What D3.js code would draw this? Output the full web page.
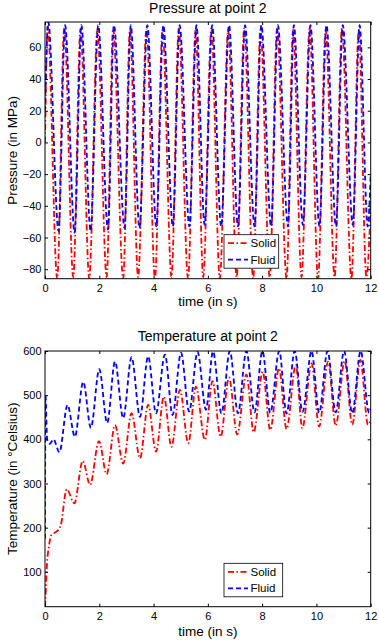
<!DOCTYPE html>
<html>
<head>
<meta charset="utf-8">
<script src="https://cdn.jsdelivr.net/npm/d3@7"></script>
<style>
  html, body { margin: 0; padding: 0; background: #fff; }
  svg { display: block; font-family: "Liberation Sans", Arial, sans-serif; }
</style>
</head>
<body>
<div id="chart"></div>
<script>
// values (time in s)
var seriesNames = ["Solid", "Fluid"];
var xTicks = [0, 2, 4, 6, 8, 10, 12];
var pressureTicks = [-80, -60, -40, -20, 0, 20, 40, 60];
var tempTicks = [100, 200, 300, 400, 500, 600];

// pressure, solid
var solidPTime = [0, 0.10, 0.45, 0.71, 1.04, 1.31, 1.63, 1.93, 2.27, 2.51, 2.88, 3.13, 3.43, 3.74, 4.05, 4.33, 4.66, 4.93, 5.27, 5.55, 5.83,
  6.13, 6.44, 6.75, 7.06, 7.34, 7.67, 7.94, 8.28, 8.55, 8.90, 9.14, 9.45, 9.75, 10.06, 10.34, 10.67, 10.94, 11.29, 11.56, 11.84, 12.0];
var solidP = [0, 73, -86, 72, -85, 72, -86, 71, -85, 72, -86, 71, -85, 72, -86, 71, -85, 72, -86, 71, -85,
  72, -86, 71, -85, 72, -86, 71, -85, 72, -86, 71, -85, 72, -86, 71, -85, 72, -86, 71, -85, -40];

// pressure, fluid
var fluidPTime = [0, 0.12, 0.50, 0.74, 1.09, 1.34, 1.68, 1.96, 2.32, 2.54, 2.93, 3.16, 3.48, 3.77, 4.10, 4.36, 4.71, 4.96, 5.32, 5.58, 5.88,
  6.16, 6.49, 6.78, 7.11, 7.37, 7.72, 7.97, 8.33, 8.58, 8.95, 9.17, 9.50, 9.78, 10.11, 10.37, 10.72, 10.97, 11.34, 11.59, 11.89, 12.0];
var fluidP = [20, 76, -56, 74, -57, 74, -56, 74, -55, 74, -54, 74, -54, 74, -53, 74, -53, 74, -53, 74, -52,
  74, -53, 74, -53, 74, -53, 74, -53, 74, -53, 74, -52, 74, -53, 74, -53, 74, -52, 74, -53, -20];

// temperature, solid
var solidTTime = [0, 0.03, 0.06, 0.15, 0.24, 0.40, 0.49, 0.58, 0.80, 1.08, 1.39, 1.66, 1.99, 2.27, 2.58, 2.88, 3.19, 3.50, 3.80, 4.09,
  4.38, 4.66, 4.97, 5.28, 5.56, 5.89, 6.17, 6.47, 6.78, 7.08, 7.42, 7.69, 8.02, 8.30, 8.62, 8.90, 9.24, 9.48, 9.82, 10.10,
  10.43, 10.71, 11.04, 11.32, 11.62, 11.90, 12.0];
var solidT = [21, 60, 104, 160, 184, 190, 195, 205, 287, 255, 351, 297, 396, 321, 432, 345, 459, 357, 478, 372,
  497, 383, 512, 391, 519, 399, 532, 406, 540, 411, 547, 416, 553, 421, 561, 423, 568, 425, 572, 429,
  576, 431, 577, 433, 580, 433, 445];

// temperature, fluid
var fluidTTime = [0, 0.015, 0.08, 0.18, 0.31, 0.53, 0.83, 1.10, 1.41, 1.69, 2.00, 2.29, 2.58, 2.88, 3.19, 3.50, 3.80, 4.09, 4.42, 4.70,
  5.01, 5.31, 5.62, 5.93, 6.19, 6.50, 6.81, 7.11, 7.42, 7.72, 8.01, 8.30, 8.63, 8.90, 9.20, 9.49, 9.82, 10.10, 10.41, 10.71,
  11.02, 11.32, 11.63, 11.94, 12.0];
var fluidT = [175, 500, 400, 390, 400, 371, 478, 406, 530, 426, 559, 437, 576, 448, 586, 451, 588, 459, 592, 455,
  596, 463, 598, 467, 599, 459, 600, 459, 600, 461, 600, 460, 600, 458, 600, 462, 600, 460, 600, 461,
  600, 459, 600, 460, 470];

var W = 379, H = 640;
var svg = d3.select("#chart").append("svg")
    .attr("width", W)
    .attr("height", H);

var styles = {
    Solid: { color: "#ff0000", dash: "6,2.5,1.5,2.5" },
    Fluid: { color: "#0000ff", dash: "5,3" }
};

function zip(ts, vs) {
    return ts.map(function (t, i) { return [t, vs[i]]; });
}

function drawPanel(opt) {
    var x = d3.scaleLinear().domain([0, 12]).range([45, 370.7]);
    var y = d3.scaleLinear().domain(opt.yDomain).range([opt.bottom, opt.top]);
    var g = svg.append("g");

    g.append("defs").append("clipPath")
        .attr("id", opt.id + "-clip")
        .append("rect")
        .attr("x", x.range()[0]).attr("y", opt.top)
        .attr("width", x.range()[1] - x.range()[0])
        .attr("height", opt.bottom - opt.top);

    var line = d3.line()
        .x(function (d) { return x(d[0]); })
        .y(function (d) { return y(d[1]); })
        .curve(d3.curveMonotoneX);

    var lines = g.append("g").attr("clip-path", "url(#" + opt.id + "-clip)");
    opt.series.forEach(function (s) {
        lines.append("path")
            .datum(s.data)
            .attr("d", line)
            .attr("fill", "none")
            .attr("stroke", styles[s.name].color)
            .attr("stroke-width", 1.8)
            .attr("stroke-dasharray", styles[s.name].dash);
    });

    // axes, ticks pointing inward on all four sides
    g.append("g")
        .attr("transform", "translate(0," + opt.bottom + ")")
        .call(d3.axisBottom(x).tickValues(xTicks).tickSizeInner(-3).tickSizeOuter(0).tickPadding(6));
    g.append("g")
        .attr("transform", "translate(0," + opt.top + ")")
        .call(d3.axisTop(x).tickValues(xTicks).tickSizeInner(-3).tickSizeOuter(0).tickFormat(""));
    g.append("g")
        .attr("transform", "translate(" + x.range()[0] + ",0)")
        .call(d3.axisLeft(y).tickValues(opt.yTicks).tickSizeInner(-3).tickSizeOuter(0).tickPadding(3.5));
    g.append("g")
        .attr("transform", "translate(" + x.range()[1] + ",0)")
        .call(d3.axisRight(y).tickValues(opt.yTicks).tickSizeInner(-3).tickSizeOuter(0).tickFormat(""));

    g.selectAll(".domain").remove();
    g.selectAll(".tick line").attr("stroke", "#000");
    g.selectAll(".tick text").attr("font-size", 11).attr("fill", "#000")
        .attr("font-family", "Liberation Sans, Arial, sans-serif");

    // box
    g.append("rect")
        .attr("x", x.range()[0]).attr("y", opt.top)
        .attr("width", x.range()[1] - x.range()[0])
        .attr("height", opt.bottom - opt.top)
        .attr("fill", "none").attr("stroke", "#000").attr("stroke-width", 1);

    g.append("text")
        .attr("x", (x.range()[0] + x.range()[1]) / 2)
        .attr("y", opt.titleY)
        .attr("text-anchor", "middle")
        .attr("font-size", 14)
        .text(opt.title);

    g.append("text")
        .attr("x", (x.range()[0] + x.range()[1]) / 2)
        .attr("y", opt.xLabelY)
        .attr("text-anchor", "middle")
        .attr("font-size", 13.5)
        .text("time (in s)");

    g.append("text")
        .attr("transform", "translate(17," + (opt.top + opt.bottom) / 2 + ") rotate(-90)")
        .attr("text-anchor", "middle")
        .attr("font-size", 13.5)
        .text(opt.yLabel);

    // legend
    var lg = g.append("g").attr("transform", "translate(" + opt.legend[0] + "," + opt.legend[1] + ")");
    lg.append("rect")
        .attr("width", opt.legend[2]).attr("height", 33.5)
        .attr("fill", "#fff").attr("stroke", "#000").attr("stroke-width", 0.8);
    seriesNames.forEach(function (name, i) {
        var cy = 8.5 + i * 16.5;
        lg.append("line")
            .attr("x1", 4).attr("x2", 24).attr("y1", cy).attr("y2", cy)
            .attr("stroke", styles[name].color)
            .attr("stroke-width", 1.8)
            .attr("stroke-dasharray", styles[name].dash);
        lg.append("text")
            .attr("x", 26.5).attr("y", cy).attr("dy", "0.35em")
            .attr("font-size", 11.5)
            .text(name);
    });
}

drawPanel({
    id: "pressure",
    top: 22, bottom: 278.7,
    yDomain: [-86, 76],
    yTicks: pressureTicks,
    title: "Pressure at point 2",
    titleY: 12.7,
    xLabelY: 305.5,
    yLabel: "Pressure (in MPa)",
    legend: [224, 234.7, 54.7],
    series: [
        { name: "Solid", data: zip(solidPTime, solidP) },
        { name: "Fluid", data: zip(fluidPTime, fluidP) }
    ]
});

drawPanel({
    id: "temperature",
    top: 351, bottom: 606.7,
    yDomain: [21, 600],
    yTicks: tempTicks,
    title: "Temperature at point 2",
    titleY: 340.5,
    xLabelY: 635.5,
    yLabel: "Temperature (in \u00B0Celsius)",
    legend: [224, 563.3, 58.7],
    series: [
        { name: "Solid", data: zip(solidTTime, solidT) },
        { name: "Fluid", data: zip(fluidTTime, fluidT) }
    ]
});
</script>
</body>
</html>
